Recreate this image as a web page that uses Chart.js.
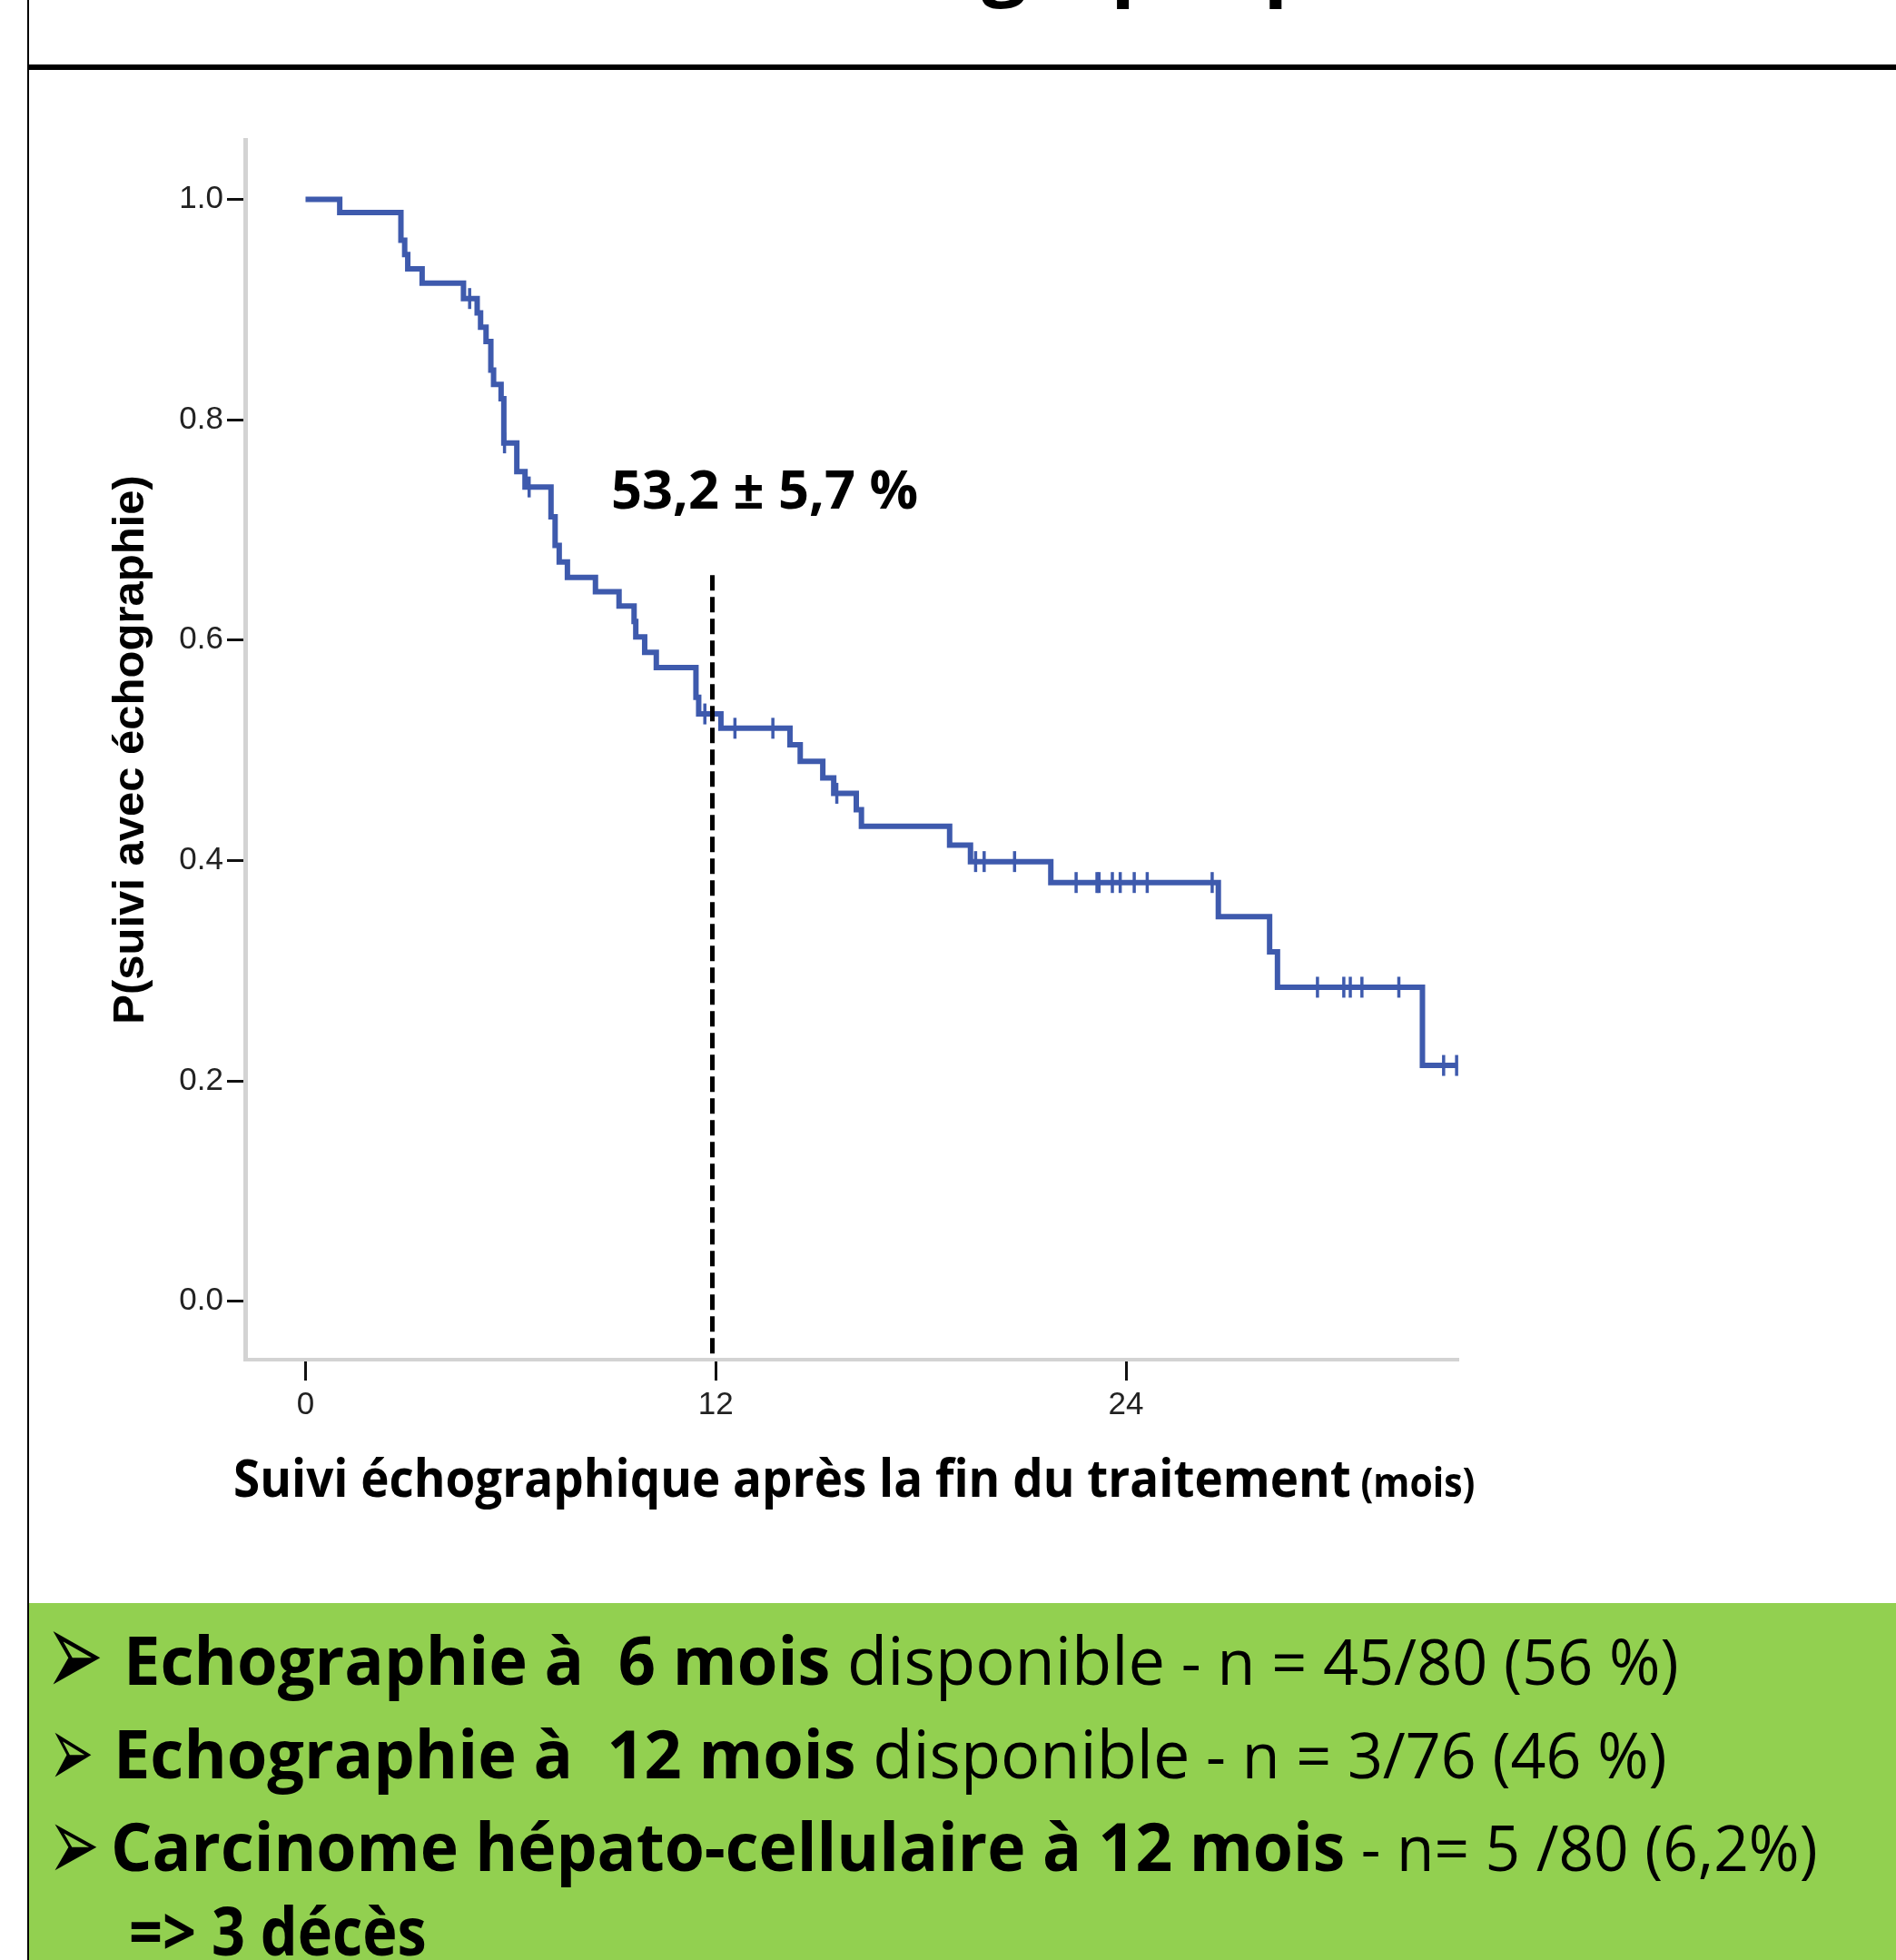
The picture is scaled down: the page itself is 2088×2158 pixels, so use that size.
<!DOCTYPE html>
<html>
<head>
<meta charset="utf-8">
<script src="https://cdn.jsdelivr.net/npm/chart.js@4.4.1/dist/chart.umd.min.js"></script>
<style>
html, body { margin: 0; padding: 0; background: #fff; }
body { position: relative; width: 2088px; height: 2158px; overflow: hidden; }
.t { position: absolute; white-space: pre; transform-origin: 0 0; color: #000; font-family: 'Open Sans', sans-serif; }
.arrow { position: absolute; white-space: pre; transform-origin: 0 0; color: #000; font-family: 'DejaVu Sans', sans-serif; }
#km { position: absolute; left: 0; top: 80px; }
</style>
</head>
<body>
<div style="position:absolute;left:30px;top:0;width:2px;height:2158px;background:#000"></div>
<div style="position:absolute;left:30px;top:71px;width:2058px;height:6px;background:#000"></div>
<div style="position:absolute;left:32px;top:1765px;width:2056px;height:393px;background:#92D050"></div>

<div id="title" class="t" style="font-weight:700;font-size:100px">Suivi échographique</div>

<canvas id="km" width="1750" height="1520"></canvas>

<div id="ann" class="t" style="font-weight:700;font-size:59px">53,2 ± 5,7 %</div>
<div id="xt" class="t" style="font-weight:700;font-size:57px">Suivi échographique après la fin du traitement<span style="font-size:44px"> (mois)</span></div>

<div id="a1" class="arrow">➢</div>
<div id="a2" class="arrow">➢</div>
<div id="a3" class="arrow">➢</div>
<div id="l1" class="t" style="font-size:74px"><b>Echographie à  6 mois</b> disponible<span style="font-size:70px"> - n = 45/80 (56 %)</span></div>
<div id="l2" class="t" style="font-size:74px"><b>Echographie à  12 mois</b> disponible<span style="font-size:70px"> - n = 3/76 (46 %)</span></div>
<div id="l3" class="t" style="font-size:74px"><b>Carcinome hépato-cellulaire à 12 mois</b><span style="font-size:70px"> - n= 5 /80 (6,2%)</span></div>
<div id="l4" class="t" style="font-size:74px;font-weight:700">=> 3 décès</div>

<script>
// Kaplan-Meier steps (mois, probabilite apres l'evenement)
var eventTimes = [0, 1.0, 2.79, 2.9, 2.99, 3.41, 4.62, 5.02, 5.12, 5.28, 5.42, 5.5, 5.72, 5.8,
  6.18, 6.42, 7.18, 7.3, 7.42, 7.66, 8.48, 9.17, 9.61, 9.66, 9.92, 10.26, 11.42, 11.5,
  12.15, 14.17, 14.47, 15.13, 15.45, 16.11, 16.26, 18.84, 19.45, 21.8, 26.7, 28.2, 28.43, 32.67, 33.67];
var survival = [1.0, 0.988, 0.963, 0.95, 0.937, 0.924, 0.91, 0.897, 0.884, 0.871, 0.845, 0.832, 0.819, 0.779,
  0.753, 0.739, 0.712, 0.686, 0.671, 0.657, 0.644, 0.631, 0.617, 0.603, 0.589, 0.575, 0.548, 0.533,
  0.52, 0.505, 0.49, 0.475, 0.461, 0.446, 0.431, 0.414, 0.399, 0.38, 0.349, 0.317, 0.285, 0.214, 0.214];

// censures (+)
var censorTimes = [4.8, 5.82, 6.54, 11.68, 12.56, 13.67, 15.54, 19.6, 19.85, 20.74,
  22.54, 23.15, 23.21, 23.6, 23.83, 24.24, 24.62, 26.52, 29.6, 30.37, 30.56, 30.9, 31.98, 33.29, 33.67];
var censorValues = [0.91, 0.779, 0.739, 0.533, 0.52, 0.52, 0.461, 0.399, 0.399, 0.399,
  0.38, 0.38, 0.38, 0.38, 0.38, 0.38, 0.38, 0.38, 0.285, 0.285, 0.285, 0.285, 0.285, 0.214, 0.214];

// ligne pointillee a 12 mois
var refMonth = 11.9;
var refLine = [0.659, -0.049];

var xTicks = [0, 12, 24];
var yTicks = [0, 0.2, 0.4, 0.6, 0.8, 1.0];

var BLUE = '#3E5AAD';

var kmData = [];
for (var i in eventTimes) {
  kmData.push({x: eventTimes[i], y: survival[i]});
}
var censorData = [];
for (var j in censorTimes) {
  censorData.push({x: censorTimes[j], y: censorValues[j]});
}

var chart = new Chart(document.getElementById('km'), {
  type: 'line',
  data: {
    datasets: [
      {
        label: 'KM',
        data: kmData,
        stepped: true,
        borderColor: BLUE,
        borderWidth: 6,
        pointRadius: 0,
        fill: false,
        order: 1
      },
      {
        label: 'censure',
        type: 'scatter',
        data: censorData,
        showLine: false,
        pointStyle: 'line',
        rotation: 90,
        pointRadius: 11.5,
        pointBorderWidth: 3.5,
        pointBorderColor: BLUE,
        pointBackgroundColor: BLUE,
        order: 1
      },
      {
        label: '12 mois',
        data: [{x: refMonth, y: refLine[0]}, {x: refMonth, y: refLine[1]}],
        borderColor: '#000',
        borderWidth: 5,
        borderDash: [17, 7],
        borderCapStyle: 'butt',
        pointRadius: 0,
        fill: false,
        order: 0
      }
    ]
  },
  options: {
    responsive: false,
    animation: false,
    layout: { padding: { left: 0, top: 74, right: 144, bottom: 3 } },
    plugins: { legend: { display: false }, tooltip: { enabled: false } },
    scales: {
      x: {
        type: 'linear',
        min: -1.766,
        max: 33.72,
        afterFit: function(s) { s.height = 100; },
        afterBuildTicks: function(s) { s.ticks = xTicks.map(function(v) { return {value: v}; }); },
        grid: { drawOnChartArea: false, drawTicks: true, tickLength: 23, tickColor: '#111', tickWidth: 3 },
        border: { display: true, color: '#d3d3d3', width: 4 },
        ticks: {
          font: { family: 'Liberation Sans', size: 35 },
          color: '#222',
          padding: 6,
          callback: function(v) { return String(v); }
        }
      },
      y: {
        type: 'linear',
        min: -0.053,
        max: 1.054,
        afterFit: function(s) { s.width = 270; },
        afterBuildTicks: function(s) { s.ticks = yTicks.map(function(v) { return {value: v}; }); },
        grid: { drawOnChartArea: false, drawTicks: true, tickLength: 20, tickColor: '#111', tickWidth: 3 },
        border: { display: true, color: '#d3d3d3', width: 5 },
        ticks: {
          font: { family: 'Liberation Sans', size: 35 },
          color: '#222',
          padding: 4,
          callback: function(v) { return v.toFixed(1); }
        },
        title: {
          display: true,
          text: 'P(suivi avec échographie)',
          color: '#000',
          font: { family: 'Liberation Sans', size: 49, weight: 'bold' },
          padding: { top: 115, bottom: 0 }
        }
      }
    }
  }
});

// --- placement des textes ---
var mctx = document.createElement('canvas').getContext('2d');

function fontOf(el) {
  var cs = getComputedStyle(el);
  return { w: cs.fontWeight, fs: parseFloat(cs.fontSize), fam: cs.fontFamily };
}
function measure(w, fs, fam, txt) {
  mctx.font = w + ' ' + fs + 'px ' + fam;
  return mctx.measureText(txt || 'Hg');
}
function setBaseline(el, f, base) {
  var m = measure(f.w, f.fs, f.fam);
  el.style.lineHeight = f.fs + 'px';
  el.style.top = (base - (f.fs + m.fontBoundingBoxAscent - m.fontBoundingBoxDescent) / 2) + 'px';
}
function placeLine(id, inkL, inkR, base) {
  var el = document.getElementById(id);
  el.style.transform = 'none';
  var f = fontOf(el);
  setBaseline(el, f, base);
  var w = el.getBoundingClientRect().width;
  var bear = 0.06 * f.fs;
  var sx = (inkR - inkL) / (w - 2 * bear);
  el.style.left = (inkL - bear * sx) + 'px';
  el.style.transform = 'scaleX(' + sx + ')';
}
function fitInk(id, x0, y0, x1, y1) {
  var el = document.getElementById(id);
  var f = fontOf(el);
  var m = measure('400', 100, f.fam, el.textContent);
  var h = m.actualBoundingBoxAscent + m.actualBoundingBoxDescent;
  var k = (y1 - y0) / h;
  var fs = 100 * k;
  el.style.fontSize = fs + 'px';
  setBaseline(el, { w: '400', fs: fs, fam: f.fam }, y1 - m.actualBoundingBoxDescent * k);
  var inkW = (m.actualBoundingBoxLeft + m.actualBoundingBoxRight) * k;
  var sx = (x1 - x0) / inkW;
  el.style.left = (x0 + sx * m.actualBoundingBoxLeft * k) + 'px';
  el.style.transform = 'scaleX(' + sx + ')';
}
function placeTitle() {
  // seul le bas des lettres g, p, q du titre est visible
  var el = document.getElementById('title');
  el.style.fontSize = '100px';
  var f = fontOf(el);
  var t = el.textContent;
  var iG = t.indexOf('g'), iQ = t.indexOf('q');
  var wG0 = measure(f.w, 100, f.fam, t.slice(0, iG)).width;
  var wG1 = measure(f.w, 100, f.fam, t.slice(0, iG + 1)).width;
  var wQ1 = measure(f.w, 100, f.fam, t.slice(0, iQ + 1)).width;
  var gC = (wG0 + wG1) / 2, qS = wQ1 - 15;
  var k = (1405 - 1106) / (qS - gC);
  var fs = 100 * k;
  el.style.fontSize = fs + 'px';
  var d = measure(f.w, fs, f.fam, 'g').actualBoundingBoxDescent;
  setBaseline(el, { w: f.w, fs: fs, fam: f.fam }, 10 - d);
  el.style.left = (1106 - gC * k) + 'px';
}

function layoutTexts() {
  placeTitle();
  placeLine('ann', 677, 1008, 560);
  placeLine('xt', 260, 1621, 1648);
  placeLine('l1', 140, 1844, 1855);
  placeLine('l2', 129, 1831, 1958);
  placeLine('l3', 126, 1997, 2060);
  placeLine('l4', 146, 466, 2153);
  fitInk('a1', 58, 1795, 110, 1855);
  fitInk('a2', 60, 1907, 100, 1957);
  fitInk('a3', 60, 2008, 106, 2060);
}
layoutTexts();
if (document.fonts && document.fonts.ready) {
  document.fonts.ready.then(function() { layoutTexts(); chart.update('none'); });
}
</script>
</body>
</html>
